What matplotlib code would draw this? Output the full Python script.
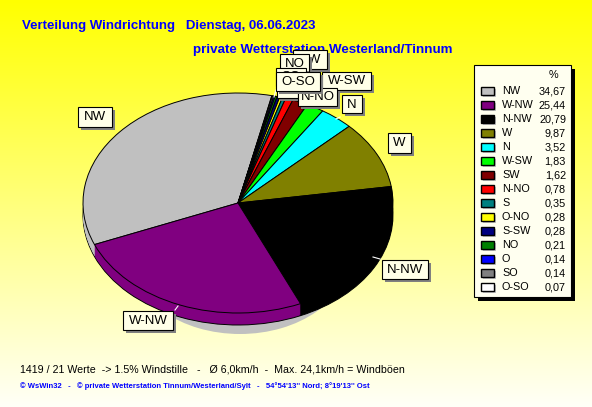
import numpy as np
import matplotlib
matplotlib.use("Agg")
import matplotlib.pyplot as plt
from matplotlib.patches import Rectangle

names = ["NW", "W-NW", "N-NW", "W", "N", "W-SW", "SW", "N-NO", "S", "O-NO", "S-SW", "NO", "O", "SO", "O-SO"]
values = [34.67, 25.44, 20.79, 9.87, 3.52, 1.83, 1.62, 0.78, 0.35, 0.28, 0.28, 0.21, 0.14, 0.14, 0.07]
value_labels = ["34,67", "25,44", "20,79", "9,87", "3,52", "1,83", "1,62", "0,78", "0,35", "0,28", "0,28", "0,21", "0,14", "0,14", "0,07"]
colors = ["#c0c0c0", "#800080", "#000000", "#808000", "#00ffff", "#00ff00", "#800000", "#ff0000",
          "#008080", "#ffff00", "#000080", "#008000", "#0000ff", "#808080", "#ffffff"]

# callout boxes, drawn back to front: text, left, top, right, bottom
callouts = [("SW", 293, 50, 327, 69), ("W-SW", 322, 72, 371, 90), ("O", 277, 79, 298, 98),
            ("N-NO", 298, 88, 337, 106), ("N", 342, 95, 362, 113), ("NO", 280, 54, 309, 73),
            ("SO", 276, 68, 306, 86), ("O-SO", 276, 72, 320, 91),
            ("NW", 78, 107, 112, 127), ("W", 388, 133, 411, 153), ("N-NW", 382, 260, 428, 279),
            ("W-NW", 123, 311, 173, 330)]
leaders = [(178, 306, 175, 310), (373, 257, 380, 259), (340, 117, 336, 119), (274, 97, 276, 90)]

W, H = 592, 407
CX, CY, RX, RY = 238, 203, 155, 110
DEPTH = 12
plt.rcParams["font.family"] = "Liberation Sans"

fig = plt.figure(figsize=(W / 100, H / 100), dpi=100)


def main():
    # yellow to pale background
    bg = fig.add_axes([0, 0, 1, 1], zorder=0)
    grad = np.linspace(0, 0.97, 256).reshape(-1, 1)
    img = np.dstack([np.ones_like(grad), np.ones_like(grad), grad])
    bg.imshow(img, aspect="auto", extent=(0, W, H, 0))
    bg.set_xlim(0, W)
    bg.set_ylim(H, 0)
    bg.axis("off")

    # pie axes: unit circle stretched onto the ellipse
    ax = fig.add_axes([(CX - RX) / W, 1 - (CY + RY) / H, 2 * RX / W, 2 * RY / H], zorder=1)

    # grey crescent showing below the pie
    ax.pie([1], colors=["#c0c0c0"], radius=0.7, center=(2 / RX, -54 / RY), wedgeprops={"clip_on": False})

    order = [0] + list(range(len(values) - 1, 0, -1))
    vals = [values[i] for i in order]
    cols = [colors[i] for i in order]
    for off in range(DEPTH, -1, -1):
        edge = off in (0, DEPTH)
        ax.pie(vals, colors=cols, startangle=202.2, counterclock=False, radius=1,
               center=(0, -off / RY),
               wedgeprops={"edgecolor": "black" if edge else "none",
                           "linewidth": 0.7 if edge else 0, "clip_on": False})
    ax.set_aspect("auto")
    ax.set_xlim(-1, 1)
    ax.set_ylim(-1, 1)
    ax.axis("off")

    # everything else in pixel coordinates
    ov = fig.add_axes([0, 0, 1, 1], zorder=2)
    ov.set_xlim(0, W)
    ov.set_ylim(H, 0)
    ov.axis("off")

    ov.text(22, 25.5, "Verteilung Windrichtung   Dienstag, 06.06.2023", color="#0000ff",
            fontsize=9.55, fontweight="bold", va="center")
    ov.text(193, 49.5, "private Wetterstation Westerland/Tinnum", color="#0000ff",
            fontsize=9.6, fontweight="bold", va="center")
    ov.text(20, 369, "1419 / 21 Werte  -> 1.5% Windstille   -   Ø 6,0km/h  -  Max. 24,1km/h = Windböen",
            color="black", fontsize=7.65, va="center")
    ov.text(20, 386, "© WsWin32   -   © private Wetterstation Tinnum/Westerland/Sylt   -   54°54'13'' Nord; 8°19'13'' Ost",
            color="#0000ff", fontsize=5.5, fontweight="bold", va="center")

    for x0, y0, x1, y1 in leaders:
        ov.plot([x0, x1], [y0, y1], color="white", lw=0.8)

    # each callout on its own layer so later boxes hide earlier text
    for i, (txt, x0, y0, x1, y1) in enumerate(callouts):
        z = 5 + i
        ov.add_patch(Rectangle((x0 + 3, y0 + 3), x1 - x0, y1 - y0, fc="#808080", ec="none", zorder=z))
        ov.add_patch(Rectangle((x0, y0), x1 - x0, y1 - y0, fc="#ffffe8", ec="black", lw=0.8, zorder=z + 0.1))
        ov.text((x0 + x1) / 2, (y0 + y1) / 2 + 0.5, txt, fontsize=9.5, color="black",
                ha="center", va="center", zorder=z + 0.2)

    # legend panel
    ov.add_patch(Rectangle((478, 69), 97, 232, fc="black", ec="none"))
    ov.add_patch(Rectangle((474, 65), 97, 232, fc="#fffff0", ec="black", lw=0.8))
    ov.text(553, 75, "%", fontsize=7.8, ha="center", va="center")
    for i, (name, lab, col) in enumerate(zip(names, value_labels, colors)):
        y = 91 + i * 14
        ov.add_patch(Rectangle((483, y - 2), 13, 8, fc="#c0c0c0", ec="none"))
        ov.add_patch(Rectangle((481, y - 4), 13, 8, fc=col, ec="black", lw=1))
        ov.text(502, y, name, fontsize=7.8, va="center")
        ov.text(566, y, lab, fontsize=7.8, ha="right", va="center")

    fig.savefig("out.png", dpi=100)


if __name__ == "__main__":
    main()
